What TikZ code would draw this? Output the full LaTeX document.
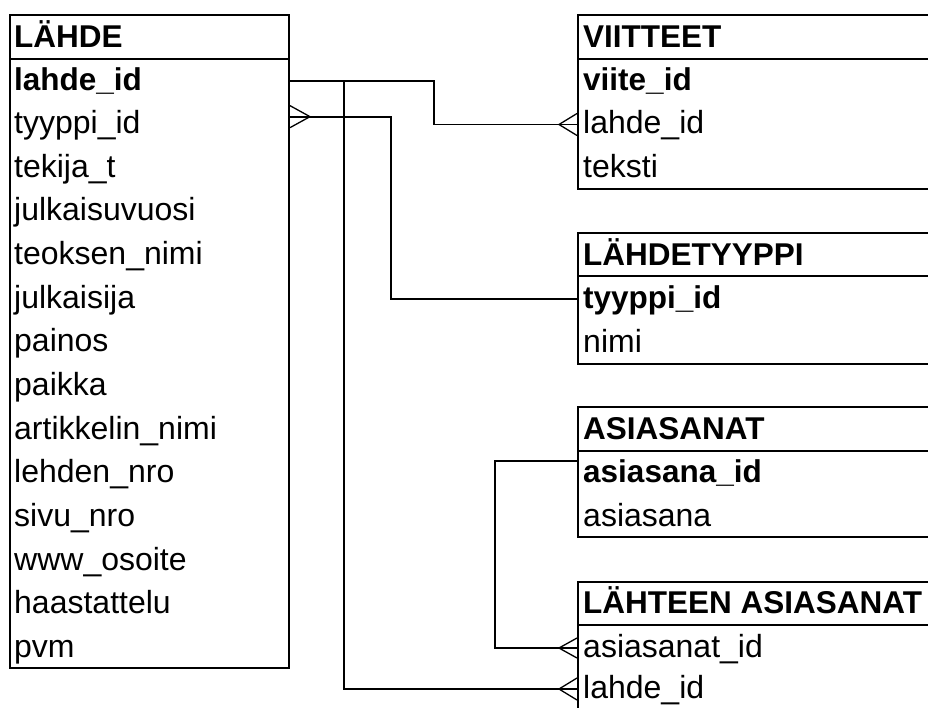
\documentclass[tikz,border=0pt]{standalone}
\usepackage{fontspec}
\setmainfont{Liberation Sans}
\begin{document}
\begin{tikzpicture}[x=1pt,y=-1pt,
  tbl/.style={draw, line width=2pt, rectangle, inner sep=0pt, anchor=north west},
  field/.style={anchor=west, inner sep=0pt, text height=24pt, text depth=6pt,
                font=\fontsize{32}{38}\selectfont},
  keyfield/.style={field, font=\fontsize{31.5}{38}\selectfont\bfseries},
  link/.style={line width=1.8pt},
  foot/.style={line width=1.3pt}]

\useasboundingbox (0,0) rectangle (928,707);
\clip (0,0) rectangle (928,707);

% ---- LÄHDE ----
\node[tbl, minimum width=279pt, minimum height=44pt]  (lahde-h) at (9,14) {};
\node[tbl, minimum width=279pt, minimum height=609pt] (lahde)   at (9,58) {};
\node[keyfield] (lahde-t) at (14,38) {LÄHDE};
\node[keyfield] (lahde-0) at (14,81) {lahde\_id};
\foreach \f [count=\i] in {tyyppi\_id, tekija\_t, julkaisuvuosi, teoksen\_nimi,
    julkaisija, painos, paikka, artikkelin\_nimi, lehden\_nro, sivu\_nro,
    www\_osoite, haastattelu, pvm}
  \node[field] (lahde-\i) at (14, 81+43.66*\i) {\f};

% ---- VIITTEET ----
\node[tbl, minimum width=400pt, minimum height=44pt]  (viitteet-h) at (577,14) {};
\node[tbl, minimum width=400pt, minimum height=130pt] (viitteet)   at (577,58) {};
\node[keyfield] (viitteet-t) at (583,38)    {VIITTEET};
\node[keyfield] (viitteet-0) at (583,81)    {viite\_id};
\node[field]    (viitteet-1) at (583,124.5) {lahde\_id};
\node[field]    (viitteet-2) at (583,168)   {teksti};

% ---- LÄHDETYYPPI ----
\node[tbl, minimum width=400pt, minimum height=43pt] (lt-h) at (577,232) {};
\node[tbl, minimum width=400pt, minimum height=88pt] (lt)   at (577,275) {};
\node[keyfield] (lt-t) at (583,256) {LÄHDETYYPPI};
\node[keyfield] (lt-0) at (583,299) {tyyppi\_id};
\node[field]    (lt-1) at (583,343) {nimi};

% ---- ASIASANAT ----
\node[tbl, minimum width=400pt, minimum height=44pt] (as-h) at (577,406) {};
\node[tbl, minimum width=400pt, minimum height=86pt] (as)   at (577,450) {};
\node[keyfield] (as-t) at (583,430) {ASIASANAT};
\node[keyfield] (as-0) at (583,473) {asiasana\_id};
\node[field]    (as-1) at (583,517) {asiasana};

% ---- LÄHTEEN ASIASANAT ----
\node[tbl, minimum width=400pt, minimum height=43pt]  (la-h) at (577,581) {};
\node[tbl, minimum width=400pt, minimum height=120pt] (la)   at (577,624) {};
\node[keyfield] (la-t) at (583,604) {LÄHTEEN ASIASANAT};
\node[field]    (la-0) at (583,648) {asiasanat\_id};
\node[field]    (la-1) at (583,689) {lahde\_id};

% ---- connector end points ----
\coordinate (lahde-pk) at (lahde.east |- lahde-0.west);
\path (lahde.east |- lahde-1.west) ++(0,-8) coordinate (lahde-fk);
\coordinate (viitteet-fk) at (viitteet.west |- viitteet-1.west);
\coordinate (lt-pk) at (lt.west |- lt-0.west);
\path (as.west |- as-0.west) ++(0,-12) coordinate (as-pk);
\coordinate (la-fk1) at (la.west |- la-0.west);
\coordinate (la-fk2) at (la.west |- la-1.west);

% ---- relationships ----
\draw[link] (lahde-pk) -- ++(144,0) |- (viitteet-fk);
\draw[link] (lahde-pk) -- ++(54,0) |- (la-fk2);
\draw[link] (lahde-fk) -- ++(101,0) |- (lt-pk);
\draw[link] (as-pk) -- ++(-82,0) |- (la-fk1);

% ---- crow's feet ----
\draw[foot] (lahde-fk) ++(0,-11) -- ++(20,11) -- ++(-20,11);
\draw[foot] (viitteet-fk) ++(0,-11) -- ++(-18,11) -- ++(18,11);
\draw[foot] (la-fk1) ++(0,-10) -- ++(-18,10) -- ++(18,10);
\draw[foot] (la-fk2) ++(0,-11) -- ++(-18,11) -- ++(18,11);
\end{tikzpicture}
\end{document}
